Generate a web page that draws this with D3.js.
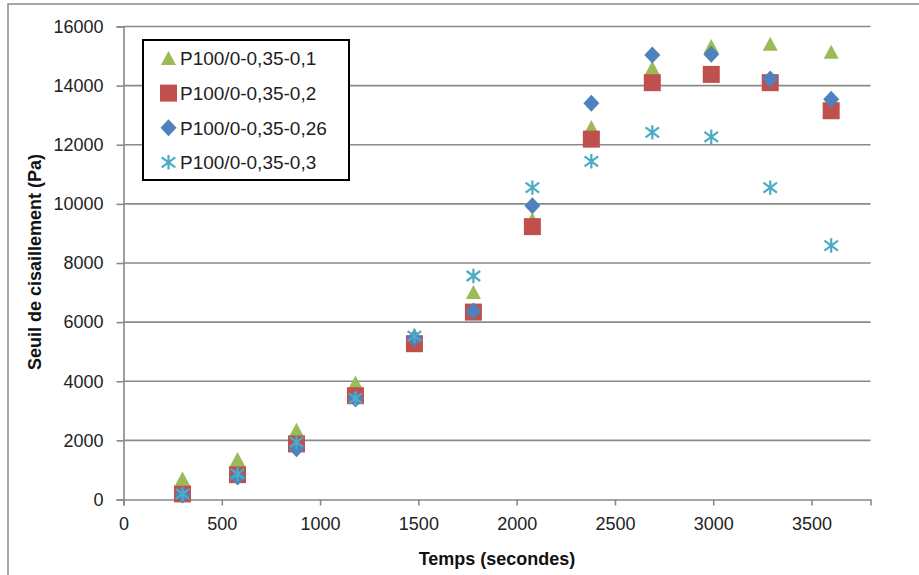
<!DOCTYPE html>
<html><head><meta charset="utf-8">
<script src="https://cdn.jsdelivr.net/npm/d3@7"></script>
<style>
html,body{margin:0;padding:0;background:#fff;}
svg{display:block;font-family:"Liberation Sans",Arial,sans-serif;}
</style></head>
<body><svg id="c" width="919" height="575"></svg>
<script>
const times = [300, 580, 880, 1180, 1480, 1780, 2080, 2380, 2690, 2990, 3290, 3600];
const serieNames = ["P100/0-0,35-0,1", "P100/0-0,35-0,2", "P100/0-0,35-0,26", "P100/0-0,35-0,3"];
const s01  = [690, 1350, 2340, 3940, 5560, 7000, 9460, 12580, 14590, 15320, 15400, 15130];
const s02  = [190, 840, 1880, 3510, 5270, 6340, 9230, 12190, 14100, 14380, 14100, 13150];
const s026 = [150, 760, 1720, 3400, 5450, 6380, 9940, 13400, 15040, 15060, 14220, 13540];
const s03  = [190, 870, 1940, 3420, 5530, 7560, 10550, 11440, 12420, 12270, 10550, 8590];
const xTicks = [0, 500, 1000, 1500, 2000, 2500, 3000, 3500];
const yTicks = [0, 2000, 4000, 6000, 8000, 10000, 12000, 14000, 16000];
const xTitle = "Temps (secondes)";
const yTitle = "Seuil de cisaillement (Pa)";

const series = [
  {name: serieNames[0], values: s01, color: "#9BBB59", shape: "tri"},
  {name: serieNames[1], values: s02, color: "#C0504D", shape: "sq"},
  {name: serieNames[2], values: s026, color: "#4F81BD", shape: "dia"},
  {name: serieNames[3], values: s03, color: "#4BACC6", shape: "star"}
];

const svg = d3.select("#c");
const gridColor = "#898989";

// outer frame
svg.append("rect").attr("x", 8).attr("y", 4).attr("width", 930).attr("height", 590)
  .attr("fill", "none").attr("stroke", "#8a8a8a").attr("stroke-width", 1.5);

const x = d3.scaleLinear().domain([0, 3800]).range([123.5, 870.5]);
const y = d3.scaleLinear().domain([0, 16000]).range([499.5, 26.5]);

// gridlines
svg.append("g").selectAll("line").data(yTicks.filter(d => d > 0)).join("line")
  .attr("x1", x(0)).attr("x2", x(3800))
  .attr("y1", d => y(d)).attr("y2", d => y(d))
  .attr("stroke", gridColor).attr("stroke-width", 1.6);

// y axis
const yAxis = svg.append("g").attr("transform", `translate(${x(0)},0)`)
  .call(d3.axisLeft(y).tickValues(yTicks).tickSize(7).tickPadding(13).tickFormat(d3.format("d")));
// x axis
const xAxis = svg.append("g").attr("transform", `translate(0,${y(0)})`)
  .call(d3.axisBottom(x).tickValues(xTicks).tickSize(6).tickPadding(15).tickFormat(d3.format("d")));
[yAxis, xAxis].forEach(g => {
  g.select(".domain").attr("stroke", gridColor).attr("stroke-width", 1.6);
  g.selectAll(".tick line").attr("stroke", gridColor).attr("stroke-width", 1.6);
  g.selectAll(".tick text").attr("fill", "#222").style("font-size", "18px")
    .style("font-family", "'Liberation Sans',Arial,sans-serif");
});
xAxis.selectAll(".tick text").attr("dy", "0.55em");

// axis titles
svg.append("text").attr("x", 497).attr("y", 565).attr("text-anchor", "middle")
  .style("font-weight", "bold").style("font-size", "18px").attr("fill", "#111").text(xTitle);
svg.append("text").attr("transform", "translate(41,262) rotate(-90)").attr("text-anchor", "middle")
  .style("font-weight", "bold").style("font-size", "18px").attr("fill", "#111").text(yTitle);

function drawMarker(g, shape, color, cx, cy) {
  if (shape === "tri") {
    g.append("path").attr("d", `M${cx},${cy - 7.5}L${cx + 7.5},${cy + 6.5}L${cx - 7.5},${cy + 6.5}Z`)
      .attr("fill", color);
  } else if (shape === "sq") {
    g.append("rect").attr("x", cx - 8.5).attr("y", cy - 8.5).attr("width", 17).attr("height", 17)
      .attr("fill", color);
  } else if (shape === "dia") {
    g.append("path").attr("d", `M${cx},${cy - 8.5}L${cx + 8},${cy}L${cx},${cy + 8.5}L${cx - 8},${cy}Z`)
      .attr("fill", color);
  } else {
    const r = 7.2, dx = 6.8, dy = 5;
    g.append("path").attr("d",
      `M${cx},${cy - r}L${cx},${cy + r}M${cx - dx},${cy - dy}L${cx + dx},${cy + dy}M${cx - dx},${cy + dy}L${cx + dx},${cy - dy}`)
      .attr("stroke", color).attr("stroke-width", 2.2).attr("fill", "none");
  }
}

// points
series.forEach(s => {
  const g = svg.append("g");
  s.values.forEach((v, i) => drawMarker(g, s.shape, s.color, x(times[i]), y(v)));
});

// legend
const lg = svg.append("g");
lg.append("rect").attr("x", 143).attr("y", 40).attr("width", 206).attr("height", 140)
  .attr("fill", "#fff").attr("stroke", "#000").attr("stroke-width", 2);
series.forEach((s, i) => {
  const cy = 58.5 + i * 34.6;
  drawMarker(lg, s.shape, s.color, 168.5, cy);
  lg.append("text").attr("x", 180).attr("y", cy).attr("dy", "0.36em")
    .style("font-size", "19px").attr("fill", "#222").text(s.name);
});
</script></body></html>
